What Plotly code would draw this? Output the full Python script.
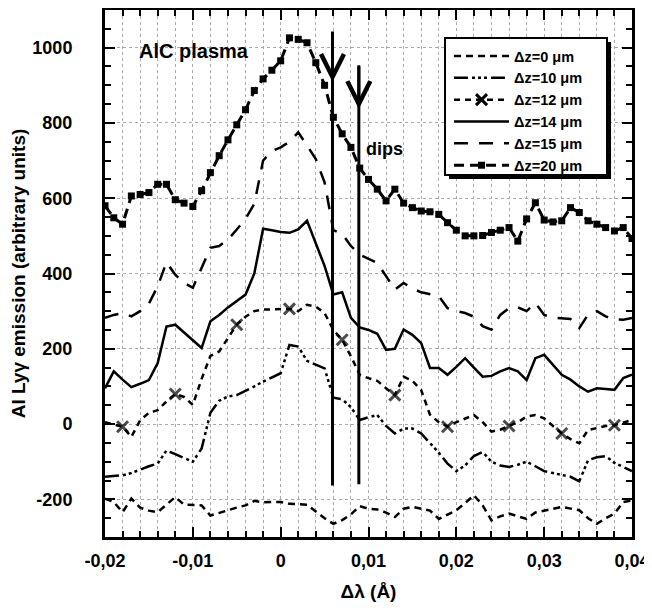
"""Al Ly-gamma emission profiles for several depths, AlC plasma."""
import plotly.graph_objects as go

# wavelength shift (Angstrom)
delta_lambda = [-0.020, -0.019, -0.018, -0.017, -0.016, -0.015, -0.014, -0.013, -0.012, -0.011,
                -0.010, -0.009, -0.008, -0.007, -0.006, -0.005, -0.004, -0.003, -0.002, -0.001,
                0.000, 0.001, 0.002, 0.003, 0.004, 0.005, 0.006, 0.007, 0.008, 0.009,
                0.010, 0.011, 0.012, 0.013, 0.014, 0.015, 0.016, 0.017, 0.018, 0.019,
                0.020, 0.021, 0.022, 0.023, 0.024, 0.025, 0.026, 0.027, 0.028, 0.029,
                0.030, 0.031, 0.032, 0.033, 0.034, 0.035, 0.036, 0.037, 0.038, 0.039,
                0.040]

dz0 = [-198, -207, -234, -198, -222, -230, -234, -215, -194, -214,
       -216, -216, -243, -235, -229, -222, -216, -204, -208, -207,
       -207, -212, -213, -214, -232, -250, -265, -255, -240, -218,
       -225, -227, -235, -247, -225, -220, -225, -230, -252, -240,
       -229, -210, -189, -216, -256, -245, -238, -245, -252, -235,
       -229, -225, -220, -224, -229, -250, -265, -250, -238, -207,
       -203]

dz10 = [-140, -138, -136, -130, -120, -112, -105, -70, -80, -90,
        -100, -65, 30, 62, 73, 77, 88, 100, 113, 125,
        135, 210, 206, 168, 158, 148, 70, 66, 45, 11,
        18, 24, -5, -25, -12, -12, -25, -50, -76, -105,
        -125, -110, -85, -74, -100, -110, -114, -108, -100, -112,
        -125, -130, -135, -140, -152, -96, -88, -85, -103, -115,
        -125]

dz12 = [5, 0, -7, -34, 10, 30, 37, 60, 80, 72,
        51, 120, 181, 193, 230, 264, 285, 300, 304, 305,
        306, 306, 300, 317, 312, 295, 250, 224, 180, 131,
        122, 115, 95, 77, 126, 115, 90, 25, 5, -7,
        5, 15, 24, 5, -20, -15, -5, 5, 20, 24,
        15, -5, -25, -40, -51, -16, -10, -5, -3, 3,
        11]
dz12_marks = [-0.018, -0.012, -0.005, 0.001, 0.007, 0.013, 0.019, 0.026, 0.032, 0.038]

dz14 = [95, 140, 118, 98, 107, 117, 162, 259, 264, 243,
        222, 202, 273, 290, 310, 328, 344, 400, 519, 515,
        510, 508, 517, 540, 480, 420, 344, 350, 282, 257,
        250, 240, 197, 200, 251, 237, 215, 149, 149, 131,
        152, 175, 150, 126, 128, 140, 149, 140, 117, 175,
        184, 158, 131, 118, 100, 86, 95, 93, 91, 122,
        131]

dz15 = [282, 290, 295, 286, 300, 320, 366, 430, 397, 375,
        362, 415, 468, 473, 490, 517, 545, 585, 700, 725,
        735, 750, 775, 740, 704, 642, 515, 505, 473, 450,
        440, 428, 393, 357, 375, 360, 350, 344, 340, 308,
        300, 295, 285, 260, 251, 290, 308, 310, 300, 322,
        290, 283, 280, 279, 255, 291, 300, 286, 278, 277,
        282]

dz20 = [580, 548, 531, 606, 610, 615, 637, 637, 596, 587,
        578, 620, 668, 713, 755, 795, 835, 886, 917, 940,
        965, 1026, 1022, 1013, 960, 900, 815, 771, 735, 680,
        650, 624, 593, 624, 587, 575, 566, 564, 557, 535,
        515, 500, 500, 501, 509, 515, 522, 486, 545, 588,
        542, 537, 540, 575, 562, 540, 531, 522, 513, 522,
        493]

# the two "dips" markers
dip_x = [0.0059, 0.0089]
dip_top = [1043, 953]
dip_bottom = [-163, -160]
dip_arrow_tip = [909, 837]

x_tickvals = [-0.02, -0.01, 0, 0.01, 0.02, 0.03, 0.04]
x_ticktext = ['-0,02', '-0,01', '0', '0,01', '0,02', '0,03', '0,04']
y_tickvals = [-200, 0, 200, 400, 600, 800, 1000]
y_ticktext = ['-200', '0', '200', '400', '600', '800', '1000']

FONT = 'Liberation Sans, Arial, sans-serif'
BOLD = dict(family=FONT, color='black', weight='bold')

fig = go.Figure()

fig.add_trace(go.Scatter(x=delta_lambda, y=dz0, mode='lines', name='Δz=0 μm',
                         line=dict(color='black', width=2.5, dash='7px,5px')))
fig.add_trace(go.Scatter(x=delta_lambda, y=dz10, mode='lines', name='Δz=10 μm',
                         line=dict(color='black', width=2.5,
                                   dash='14px,4px,3px,3px,3px,3px,3px,4px')))

# dz=12: dashed line with a cross every few points
mark_sizes = [11 if x in dz12_marks else 0 for x in delta_lambda]
fig.add_trace(go.Scatter(x=delta_lambda, y=dz12, mode='lines+markers', showlegend=False,
                         line=dict(color='black', width=2.5, dash='6px,5px'),
                         marker=dict(symbol='x-thin', size=mark_sizes,
                                     line=dict(color='black', width=3))))
fig.add_trace(go.Scatter(x=[None], y=[None], mode='lines+markers', name='Δz=12 μm',
                         line=dict(color='black', width=2.5, dash='6px,5px'),
                         marker=dict(symbol='x-thin', size=11, line=dict(color='black', width=3))))

fig.add_trace(go.Scatter(x=delta_lambda, y=dz14, mode='lines', name='Δz=14 μm',
                         line=dict(color='black', width=2.5)))
fig.add_trace(go.Scatter(x=delta_lambda, y=dz15, mode='lines', name='Δz=15 μm',
                         line=dict(color='black', width=2.5, dash='14px,11px')))
fig.add_trace(go.Scatter(x=delta_lambda, y=dz20, mode='lines+markers', name='Δz=20 μm',
                         line=dict(color='black', width=3, dash='10px,6px'),
                         marker=dict(symbol='square', size=7, color='black')))

# vertical "dips" lines
for i in range(len(dip_x)):
    fig.add_trace(go.Scatter(x=[dip_x[i], dip_x[i]], y=[dip_top[i], dip_bottom[i]],
                             mode='lines', showlegend=False,
                             line=dict(color='black', width=3)))
    fig.add_annotation(x=dip_x[i], y=dip_arrow_tip[i], ax=dip_x[i], ay=dip_top[i],
                       xref='x', yref='y', axref='x', ayref='y', text='',
                       showarrow=True, arrowhead=5, arrowsize=1.5, arrowwidth=3,
                       arrowcolor='black', standoff=0)

fig.add_annotation(x=-0.0099, y=992, text='AlC plasma', showarrow=False,
                   font=dict(size=20, **BOLD))
fig.add_annotation(x=0.0118, y=731, text='dips', showarrow=False,
                   font=dict(size=18, **BOLD))

# legend frame with drop shadow (legend itself is transparent, drawn on top)
fig.add_shape(type='rect', xref='paper', yref='paper',
              x0=0.6528, x1=0.9602, y0=0.6793, y1=0.9393,
              fillcolor='black', line=dict(width=0), layer='above')
fig.add_shape(type='rect', xref='paper', yref='paper',
              x0=0.6452, x1=0.9526, y0=0.6869, y1=0.9469,
              fillcolor='white', line=dict(color='black', width=2), layer='above')

axis_common = dict(
    showline=True, linewidth=3, linecolor='black', mirror='allticks',
    ticks='inside', ticklen=10, tickwidth=2, tickcolor='black',
    tickfont=dict(size=18, **BOLD), zeroline=False, automargin=False,
    showgrid=True, gridcolor='#aaa', griddash='dot', gridwidth=1,
)

fig.update_xaxes(
    range=[-0.02, 0.04], tickvals=x_tickvals, ticktext=x_ticktext,
    ticklabelstandoff=5,
    minor=dict(dtick=0.002, ticks='inside', ticklen=6, tickwidth=2, tickcolor='black',
               showgrid=True, gridcolor='#aaa', griddash='dot', gridwidth=1),
    title=dict(text='Δλ (Å)', font=dict(size=19, **BOLD), standoff=16),
    **axis_common,
)
fig.update_yaxes(
    range=[-300, 1100], tickvals=y_tickvals, ticktext=y_ticktext,
    ticklabelstandoff=26,
    minor=dict(dtick=50, ticks='inside', ticklen=6, tickwidth=2, tickcolor='black',
               showgrid=False),
    title=dict(text='Al Lyγ emission (arbitrary units)', font=dict(size=19, **BOLD), standoff=2),
    **axis_common,
)

# the page puts the figure 8px in from the top-left corner
fig.update_layout(
    width=644, height=603,
    margin=dict(l=97, r=20, t=2, b=74),
    plot_bgcolor='white', paper_bgcolor='white',
    font=dict(family=FONT, color='black'),
    legend=dict(x=0.6528, y=0.943, xanchor='left', yanchor='top',
                bgcolor='rgba(0,0,0,0)', borderwidth=0,
                font=dict(size=14.5, **BOLD), itemwidth=55, tracegroupgap=0),
)

fig.write_html('out.html')
